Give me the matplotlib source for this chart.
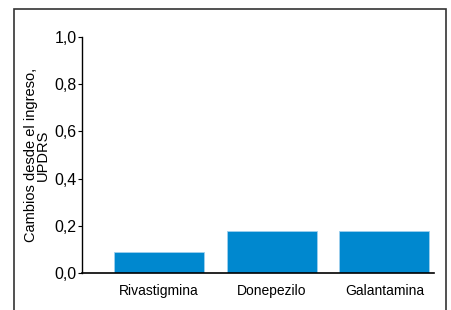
import matplotlib
matplotlib.use("Agg")
import matplotlib.pyplot as plt
from matplotlib.patches import Rectangle

# datos
farmacos = ['Rivastigmina', 'Donepezilo', 'Galantamina']
cambios = [0.09, 0.18, 0.18]
yticks = [0.0, 0.2, 0.4, 0.6, 0.8, 1.0]
ytick_labels = ['0,0', '0,2', '0,4', '0,6', '0,8', '1,0']

plt.rcParams['font.family'] = ['Liberation Sans Narrow', 'Liberation Sans', 'DejaVu Sans']

fig = plt.figure(figsize=(4.52, 3.10), dpi=100)
ax = fig.add_axes([82/452, 37/310, 352/452, 236/310])

# marco exterior
fig.patches.append(Rectangle((14/452, -0.05), 432/452, 1.05 - 9/310,
                             transform=fig.transFigure, fill=False,
                             edgecolor='#333333', linewidth=1.2))

x = range(len(farmacos))
ax.bar(x, cambios, width=0.8, color='#0088cf', edgecolor='#9fd0ee', linewidth=0.6)

ax.set_xlim(-0.684, 2.44)
ax.set_ylim(0, 1.0)
ax.set_yticks(yticks)
ax.set_yticklabels(ytick_labels, fontsize=11.5)
ax.set_xticks(list(x))
ax.set_xticklabels(farmacos, fontsize=10)
ax.tick_params(axis='x', length=0, pad=8)
ax.tick_params(axis='y', length=3, width=0.8, pad=1)

for s in ['top', 'right']:
    ax.spines[s].set_visible(False)
ax.spines['left'].set_linewidth(1.0)
ax.spines['bottom'].set_linewidth(1.2)

ax.set_ylabel('Cambios desde el ingreso,\nUPDRS', fontsize=10.5, linespacing=0.85,
              labelpad=3)

fig.savefig('out.png', dpi=100)
